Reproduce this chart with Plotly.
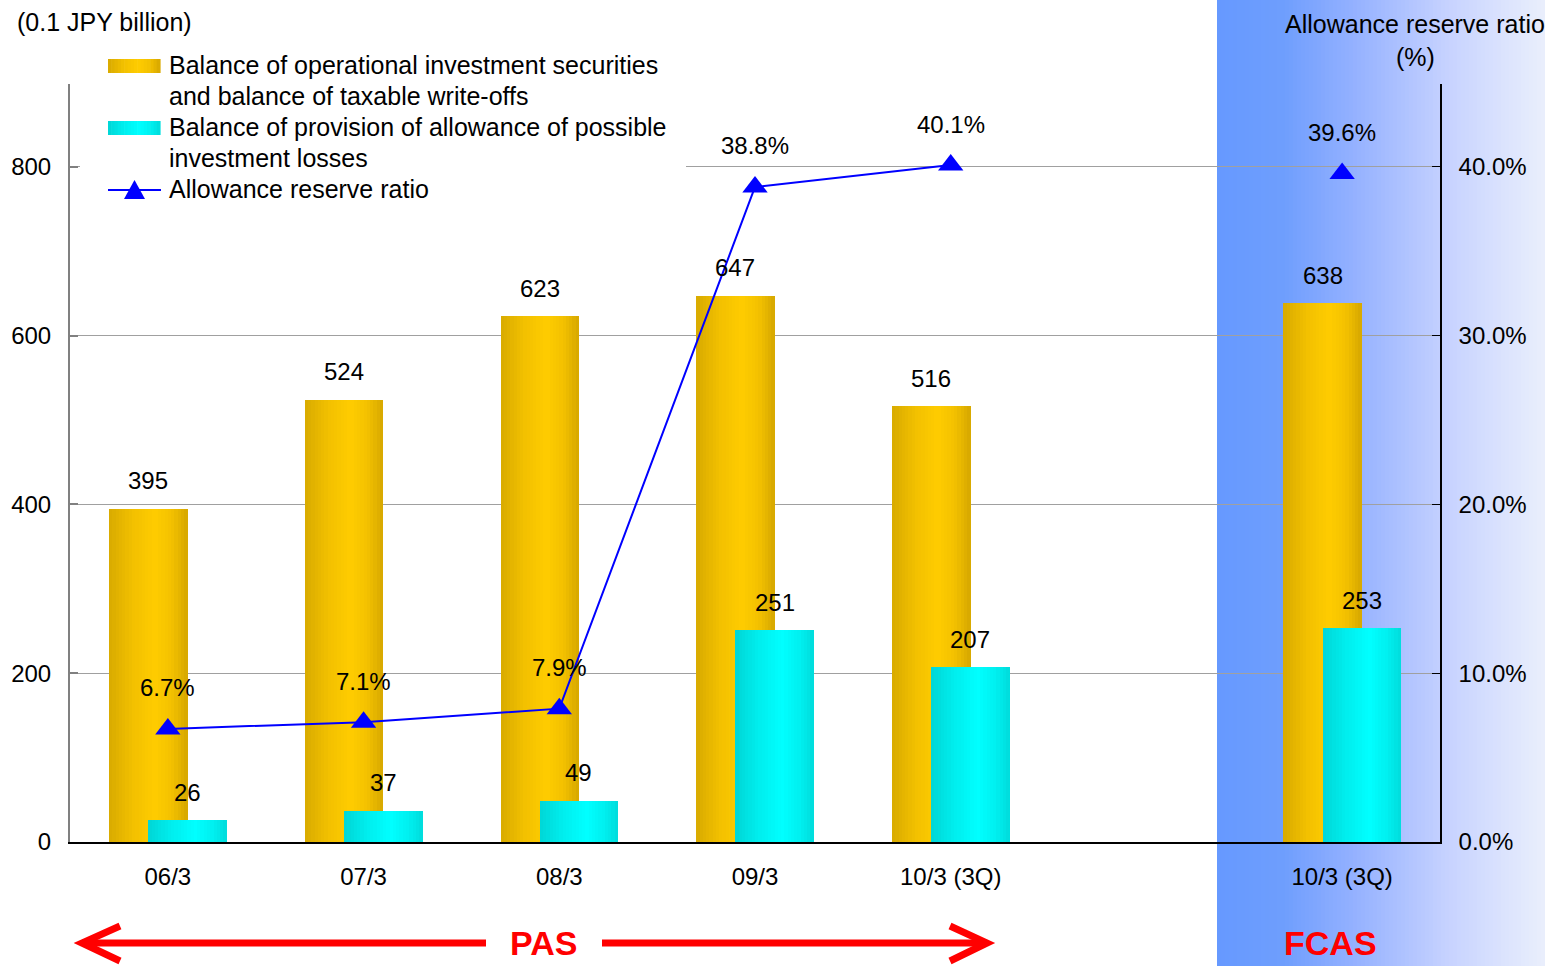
import plotly.graph_objects as go

# ---- data -------------------------------------------------------------
periods = ["06/3", "07/3", "08/3", "09/3", "10/3 (3Q)", "10/3 (3Q)"]
slots = [0, 1, 2, 3, 4, 6]          # slot 5 separates PAS and FCAS figures
securities = [395, 524, 623, 647, 516, 638]
allowance = [26, 37, 49, 251, 207, 253]
ratio = [6.7, 7.1, 7.9, 38.8, 40.1, 39.6]
left_ticks = [0, 200, 400, 600, 800]
right_ticks = [0, 10, 20, 30, 40]

W, H = 1545, 966
ML, MR, MT, MB = 70, 105, 84, 124
PW, PH = W - ML - MR, H - MT - MB
FONT = "Arial, Liberation Sans, sans-serif"


def xp(px):
    return (px - ML) / PW


def yp(py):
    return (H - MB - py) / PH


def lerp_color(stops, t):
    for (t0, c0), (t1, c1) in zip(stops, stops[1:]):
        if t0 <= t <= t1:
            f = (t - t0) / (t1 - t0) if t1 > t0 else 0
            c = [round(a + (b - a) * f) for a, b in zip(c0, c1)]
            return f"rgb({c[0]},{c[1]},{c[2]})"
    c = stops[-1][1]
    return f"rgb({c[0]},{c[1]},{c[2]})"


gold = [(0, (216, 170, 0)), (0.3, (242, 192, 0)), (0.58, (255, 204, 0)),
        (0.8, (243, 193, 0)), (1, (214, 167, 0))]
cyan = [(0, (0, 214, 214)), (0.3, (0, 238, 238)), (0.6, (0, 255, 255)),
        (0.82, (0, 240, 240)), (1, (0, 220, 220))]
blue_bg = [(0, (102, 153, 255)), (0.2, (110, 158, 253)), (0.4, (145, 175, 255)),
           (0.6, (180, 198, 255)), (0.7, (198, 210, 255)), (1, (234, 239, 252))]

fig = go.Figure()

# bars with horizontal shading, built from thin strips
BAR_W, N = 0.4, 24


def shaded_bars(values, offset, stops):
    for i in range(N):
        fig.add_trace(go.Bar(
            x=slots, y=values, width=BAR_W / N * 1.08,
            offset=offset + i * BAR_W / N,
            marker=dict(color=lerp_color(stops, (i + 0.5) / N), line=dict(width=0)),
            showlegend=False, hoverinfo="skip"))


shaded_bars(securities, -0.3, gold)
shaded_bars(allowance, -0.1, cyan)

# allowance reserve ratio
fig.add_trace(go.Scatter(
    x=slots[:5], y=ratio[:5], yaxis="y2", mode="lines+markers",
    line=dict(color="#0000FF", width=2),
    marker=dict(symbol="triangle-up", size=22, color="#0000FF"),
    showlegend=False, hoverinfo="skip"))
fig.add_trace(go.Scatter(
    x=slots[5:], y=ratio[5:], yaxis="y2", mode="markers",
    marker=dict(symbol="triangle-up", size=22, color="#0000FF"),
    showlegend=False, hoverinfo="skip"))

ann = []
for s, v in zip(slots, securities):
    ann.append(dict(x=s - 0.1, y=v, xref="x", yref="y", text=str(v), showarrow=False,
                    xanchor="center", yanchor="middle", yshift=28,
                    font=dict(size=24, color="black", family=FONT)))
for s, v in zip(slots, allowance):
    ann.append(dict(x=s + 0.1, y=v, xref="x", yref="y", text=str(v), showarrow=False,
                    xanchor="center", yanchor="middle", yshift=28,
                    font=dict(size=24, color="black", family=FONT)))
for s, v in zip(slots, ratio):
    ann.append(dict(x=s, y=v, xref="x", yref="y2", text=f"{v:.1f}%", showarrow=False,
                    xanchor="center", yanchor="middle", yshift=41,
                    font=dict(size=24, color="black", family=FONT)))

# axis captions
ann.append(dict(x=xp(15), y=yp(22), xref="paper", yref="paper", text="(0.1 JPY billion)",
                showarrow=False, xanchor="left", yanchor="middle",
                font=dict(size=25, color="black", family=FONT)))
ann.append(dict(x=xp(1415), y=yp(24), xref="paper", yref="paper", text="Allowance reserve ratio",
                showarrow=False, xanchor="center", yanchor="middle",
                font=dict(size=25, color="black", family=FONT)))
ann.append(dict(x=xp(1415), y=yp(57), xref="paper", yref="paper", text="(%)",
                showarrow=False, xanchor="center", yanchor="middle",
                font=dict(size=25, color="black", family=FONT)))

# accounting standard labels
ann.append(dict(x=xp(543), y=yp(943), xref="paper", yref="paper", text="<b>PAS</b>",
                showarrow=False, xanchor="center", yanchor="middle",
                font=dict(size=34, color="#FF0000", family=FONT)))
ann.append(dict(x=xp(1330), y=yp(943), xref="paper", yref="paper", text="<b>FCAS</b>",
                showarrow=False, xanchor="center", yanchor="middle",
                font=dict(size=34, color="#FF0000", family=FONT)))

shapes = []
# FCAS background panel with horizontal fade
NB = 82
x0, x1 = 1217, 1545
for i in range(NB):
    a = x0 + (x1 - x0) * i / NB
    b = x0 + (x1 - x0) * (i + 1) / NB + 0.6
    shapes.append(dict(type="rect", xref="paper", yref="paper", layer="below",
                       x0=xp(a), x1=xp(b), y0=yp(H), y1=yp(0),
                       fillcolor=lerp_color(blue_bg, (i + 0.5) / NB), line=dict(width=0)))

# PAS double arrow
red = dict(color="#FF0000", width=7)
shapes.append(dict(type="line", xref="paper", yref="paper", x0=xp(82), x1=xp(486),
                   y0=yp(943), y1=yp(943), line=red))
shapes.append(dict(type="line", xref="paper", yref="paper", x0=xp(602), x1=xp(986),
                   y0=yp(943), y1=yp(943), line=red))
shapes.append(dict(type="path", xref="paper", yref="paper",
                   path=f"M{xp(120)},{yp(926)} L{xp(82)},{yp(943)} L{xp(120)},{yp(961)}",
                   line=red))
shapes.append(dict(type="path", xref="paper", yref="paper",
                   path=f"M{xp(950)},{yp(926)} L{xp(987)},{yp(943)} L{xp(950)},{yp(961)}",
                   line=red))

# legend box
shapes.append(dict(type="rect", xref="paper", yref="paper", layer="above",
                   x0=xp(80), x1=xp(686), y0=yp(205), y1=yp(48),
                   fillcolor="white", line=dict(width=0)))
NS = 16
for stops, yc in ((gold, 66), (cyan, 128)):
    for i in range(NS):
        a = 108 + 52 * i / NS
        b = 108 + 52 * (i + 1) / NS + 0.6
        shapes.append(dict(type="rect", xref="paper", yref="paper", layer="above",
                           x0=xp(a), x1=xp(b), y0=yp(yc + 7), y1=yp(yc - 7),
                           fillcolor=lerp_color(stops, (i + 0.5) / NS), line=dict(width=0)))
shapes.append(dict(type="line", xref="paper", yref="paper", layer="above",
                   x0=xp(108), x1=xp(161), y0=yp(190), y1=yp(190),
                   line=dict(color="#0000FF", width=2)))
shapes.append(dict(type="path", xref="paper", yref="paper", layer="above",
                   path=f"M{xp(124)},{yp(199)} L{xp(145)},{yp(199)} L{xp(134.5)},{yp(180)} Z",
                   fillcolor="#0000FF", line=dict(width=0)))

legend_rows = [
    ("Balance of operational investment securities", 65),
    ("and balance of taxable write-offs", 96),
    ("Balance of provision of allowance of possible", 127),
    ("investment losses", 158),
    ("Allowance reserve ratio", 189),
]
for txt, yc in legend_rows:
    ann.append(dict(x=xp(167), y=yp(yc), xref="paper", yref="paper", text=txt,
                    showarrow=False, xanchor="left", yanchor="middle",
                    font=dict(size=25, color="black", family=FONT)))

fig.update_layout(
    width=W, height=H,
    margin=dict(l=ML, r=MR, t=MT, b=MB, pad=0),
    paper_bgcolor="white", plot_bgcolor="rgba(0,0,0,0)",
    barmode="overlay", bargap=0,
    showlegend=False,
    font=dict(family=FONT, size=24, color="black"),
    xaxis=dict(range=[-0.5, 6.5], tickvals=slots, ticktext=periods,
               showgrid=False, zeroline=False, showline=True, linecolor="black",
               linewidth=2, ticks="", ticklabelstandoff=12,
               tickfont=dict(size=24, family=FONT, color="black")),
    yaxis=dict(range=[0, 898], tickvals=left_ticks, showgrid=True,
               gridcolor="#A0A0A0", gridwidth=1, zeroline=False, showline=True,
               linecolor="#808080", linewidth=2, ticks="inside", ticklen=8,
               tickcolor="#808080", tickwidth=1.5, ticklabelstandoff=12,
               tickfont=dict(size=24, family=FONT, color="black")),
    yaxis2=dict(range=[0, 44.9], tickvals=right_ticks,
                ticktext=[f"{v:.1f}%" for v in right_ticks],
                overlaying="y", side="right",
                showgrid=False, zeroline=False, showline=True, linecolor="black",
                linewidth=1.5, ticks="inside", ticklen=8, tickcolor="black",
                ticklabelstandoff=12,
                tickfont=dict(size=24, family=FONT, color="black")),
    annotations=ann,
    shapes=shapes,
)

fig.write_html("out.html")
